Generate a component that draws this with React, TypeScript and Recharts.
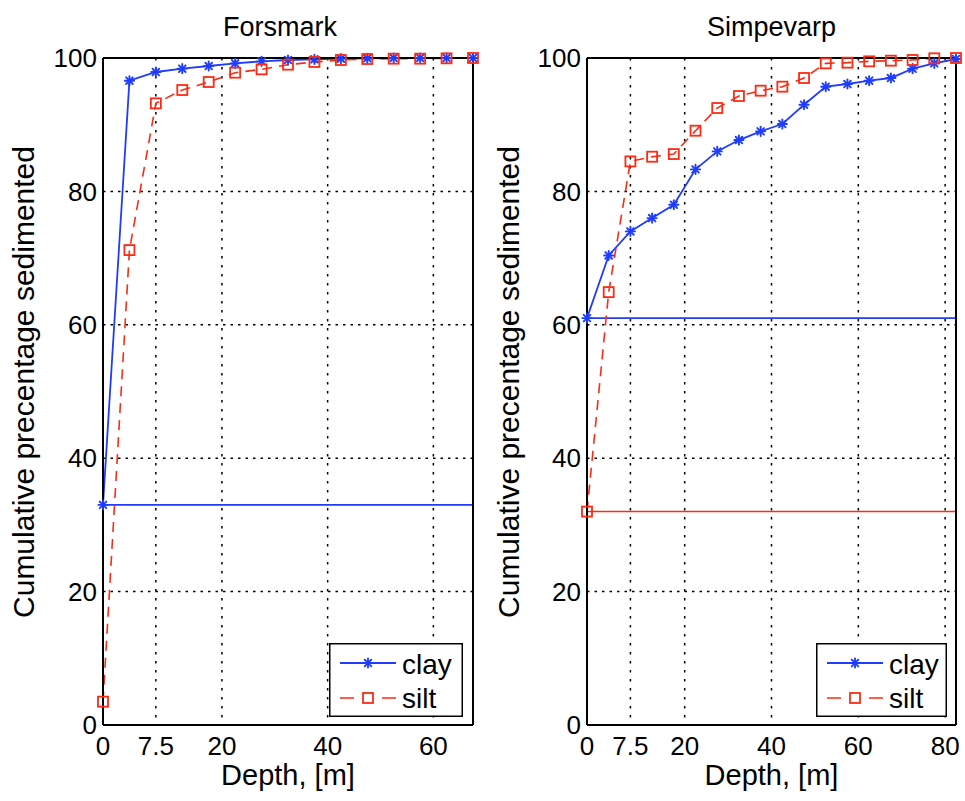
import React from 'react';
import { LineChart, Line, XAxis, YAxis, CartesianGrid, ReferenceLine, Legend } from 'recharts';

const FONT = '"Liberation Sans", Arial, Helvetica, sans-serif';
const BLUE = '#1f3cff';
const RED = '#ff2a12';
const H = 801;
const PLOT_TOP = 58;
const XAXIS_H = 76;

// ---- data ----
const forsmarkDepth = [-2.5, 2.5, 7.5, 12.5, 17.5, 22.5, 27.5, 32.5, 37.5, 42.5, 47.5, 52.5, 57.5, 62.5, 67.5];
const forsmarkClay = [33, 96.6, 97.9, 98.4, 98.8, 99.2, 99.5, 99.7, 99.8, 99.9, 99.95, 100, 100, 100, 100];
const forsmarkSilt = [3.5, 71.2, 93.2, 95.2, 96.4, 97.8, 98.3, 99.0, 99.4, 99.7, 99.85, 99.9, 99.9, 99.95, 100];

const simpevarpDepth = [-2.5, 2.5, 7.5, 12.5, 17.5, 22.5, 27.5, 32.5, 37.5, 42.5, 47.5, 52.5, 57.5, 62.5, 67.5, 72.5, 77.5, 82.5];
const simpevarpClay = [61, 70.4, 74.0, 76.0, 78.0, 83.3, 86.0, 87.7, 89.0, 90.1, 93.0, 95.7, 96.1, 96.6, 97.0, 98.4, 99.2, 99.85];
const simpevarpSilt = [32, 64.9, 84.5, 85.2, 85.6, 89.1, 92.5, 94.3, 95.1, 95.7, 97.0, 99.2, 99.3, 99.5, 99.6, 99.7, 99.95, 100];

const yTicks = [0, 20, 40, 60, 80, 100];
const forsmarkXTicks = [-2.5, 7.5, 20, 40, 60];
const simpevarpXTicks = [-2.5, 7.5, 20, 40, 60, 80];
const seriesNames = ['clay', 'silt'];
const yLabelText = 'Cumulative precentage sedimented';
const xLabelText = 'Depth, [m]';

const fmtX = (v: number) => (v < 0 ? '0' : String(v));

// ---- markers ----
const StarMark = ({ cx, cy }: { cx: number; cy: number }) => {
  const r = 4.6;
  const d = 3.3;
  return (
    <g stroke={BLUE} strokeWidth={1.9} strokeLinecap="round">
      <line x1={cx - r} y1={cy} x2={cx + r} y2={cy} />
      <line x1={cx} y1={cy - r} x2={cx} y2={cy + r} />
      <line x1={cx - d} y1={cy - d} x2={cx + d} y2={cy + d} />
      <line x1={cx - d} y1={cy + d} x2={cx + d} y2={cy - d} />
    </g>
  );
};
const SquareMark = ({ cx, cy }: { cx: number; cy: number }) => (
  <rect x={cx - 5} y={cy - 5} width={10} height={10} fill="none" stroke={RED} strokeWidth={1.8} />
);

const renderStar = (p: any) => {
  if (p.cx == null || p.cy == null) return <g key={p.key} />;
  return (
    <g key={p.key ?? `s${p.index}`}>
      <StarMark cx={p.cx} cy={p.cy} />
    </g>
  );
};
const renderSquare = (p: any) => {
  if (p.cx == null || p.cy == null) return <g key={p.key} />;
  return (
    <g key={p.key ?? `q${p.index}`}>
      <SquareMark cx={p.cx} cy={p.cy} />
    </g>
  );
};

type Cfg = {
  left: number;
  width: number;
  yAxisWidth: number;
  marginRight: number;
  title: string;
  titleDx: number;
  depth: number[];
  clay: number[];
  silt: number[];
  xDomain: [number, number];
  xTicks: number[];
  refs: ('clay' | 'silt')[];
  legendLeft: number;
  legendWidth: number;
};

const panels: Cfg[] = [
  {
    left: 0,
    width: 485,
    yAxisWidth: 103,
    marginRight: 12,
    title: 'Forsmark',
    titleDx: -8,
    depth: forsmarkDepth,
    clay: forsmarkClay,
    silt: forsmarkSilt,
    xDomain: [-2.5, 67.5],
    xTicks: forsmarkXTicks,
    refs: ['clay'],
    legendLeft: 329,
    legendWidth: 134,
  },
  {
    left: 485,
    width: 480,
    yAxisWidth: 102,
    marginRight: 9,
    title: 'Simpevarp',
    titleDx: 0,
    depth: simpevarpDepth,
    clay: simpevarpClay,
    silt: simpevarpSilt,
    xDomain: [-2.5, 82.5],
    xTicks: simpevarpXTicks,
    refs: ['clay', 'silt'],
    legendLeft: 331,
    legendWidth: 131,
  },
];

const LegendBox = ({ width }: { width: number }) => {
  const h = 74;
  return (
    <svg width={width} height={h} style={{ display: 'block' }}>
      <rect x={0.75} y={0.75} width={width - 1.5} height={h - 1.5} fill="#fff" stroke="#000" strokeWidth={1.5} />
      <line x1={11} y1={20} x2={67} y2={20} stroke={BLUE} strokeWidth={1.8} />
      <StarMark cx={39} cy={20} />
      <text x={73} y={31} fontSize={28} fontFamily={FONT} fill="#000">{seriesNames[0]}</text>
      <line x1={11} y1={55} x2={67} y2={55} stroke={RED} strokeWidth={1.6} strokeDasharray="14 28" />
      <SquareMark cx={39} cy={55} />
      <text x={73} y={65} fontSize={28} fontFamily={FONT} fill="#000">{seriesNames[1]}</text>
    </svg>
  );
};

const Panel = ({ cfg }: { cfg: Cfg }) => {
  const data = cfg.depth.map((x, i) => ({ x, clay: cfg.clay[i], silt: cfg.silt[i] }));
  const plotLeft = cfg.yAxisWidth;
  const plotRight = cfg.width - cfg.marginRight;
  const cx = (plotLeft + plotRight) / 2;
  const axisStroke = { stroke: '#000', strokeWidth: 2 };
  const tickStroke = { stroke: '#000', strokeWidth: 1.5 };

  const titleLabel = () => (
    <text x={cx + cfg.titleDx} y={36} textAnchor="middle" fontSize={27} fontFamily={FONT} fill="#000">
      {cfg.title}
    </text>
  );
  const xLabel = () => (
    <text x={cx} y={785} textAnchor="middle" fontSize={29} fontFamily={FONT} fill="#000">
      {xLabelText}
    </text>
  );
  const yLabel = () => {
    const x = 34;
    const y = 382;
    return (
      <text x={x} y={y} transform={`rotate(-90 ${x} ${y})`} textAnchor="middle" fontSize={30} fontFamily={FONT} fill="#000">
        {yLabelText}
      </text>
    );
  };

  return (
    <div style={{ position: 'absolute', left: cfg.left, top: 0, width: cfg.width, height: H }}>
      <LineChart
        width={cfg.width}
        height={H}
        data={data}
        margin={{ top: PLOT_TOP, right: cfg.marginRight, bottom: 0, left: 0 }}
      >
        <CartesianGrid vertical={false} stroke="#000" strokeWidth={1.5} strokeDasharray="2.5 5" />
        <CartesianGrid horizontal={false} stroke="#000" strokeWidth={1.5} strokeDasharray="2.5 6.5" />

        <XAxis
          xAxisId="bm"
          type="number"
          dataKey="x"
          domain={cfg.xDomain}
          ticks={cfg.xTicks}
          interval={0}
          orientation="bottom"
          mirror
          height={1}
          axisLine={false}
          tickLine={tickStroke}
          tickSize={7}
          tick={false}
        />
        <XAxis
          xAxisId="top"
          type="number"
          dataKey="x"
          domain={cfg.xDomain}
          ticks={cfg.xTicks}
          interval={0}
          orientation="top"
          mirror
          height={1}
          axisLine={axisStroke}
          tickLine={tickStroke}
          tickSize={7}
          tick={false}
          label={titleLabel}
        />
        <XAxis
          type="number"
          dataKey="x"
          domain={cfg.xDomain}
          ticks={cfg.xTicks}
          interval={0}
          tickFormatter={fmtX}
          height={XAXIS_H}
          axisLine={axisStroke}
          tickLine={false}
          tickSize={0}
          tickMargin={12}
          tick={{ fill: '#000', fontSize: 26, fontFamily: FONT }}
          label={xLabel}
        />

        <YAxis
          yAxisId="lm"
          type="number"
          domain={[0, 100]}
          ticks={yTicks}
          interval={0}
          orientation="left"
          mirror
          width={1}
          axisLine={false}
          tickLine={tickStroke}
          tickSize={7}
          tick={false}
        />
        <YAxis
          yAxisId="rm"
          type="number"
          domain={[0, 100]}
          ticks={yTicks}
          interval={0}
          orientation="right"
          mirror
          width={1}
          axisLine={axisStroke}
          tickLine={tickStroke}
          tickSize={7}
          tick={false}
        />
        <YAxis
          type="number"
          domain={[0, 100]}
          ticks={yTicks}
          interval={0}
          width={cfg.yAxisWidth}
          axisLine={axisStroke}
          tickLine={false}
          tickSize={0}
          tickMargin={6}
          tick={{ fill: '#000', fontSize: 26, fontFamily: FONT }}
          label={yLabel}
        />

        {cfg.refs.map((k) => (
          <ReferenceLine
            key={k}
            y={k === 'clay' ? cfg.clay[0] : cfg.silt[0]}
            stroke={k === 'clay' ? BLUE : RED}
            strokeWidth={1.6}
          />
        ))}

        <Line
          type="linear"
          dataKey="clay"
          name={seriesNames[0]}
          stroke={BLUE}
          strokeWidth={1.8}
          dot={renderStar}
          activeDot={false}
          isAnimationActive={false}
        />
        <Line
          type="linear"
          dataKey="silt"
          name={seriesNames[1]}
          stroke={RED}
          strokeWidth={1.6}
          strokeDasharray="10 7"
          dot={renderSquare}
          activeDot={false}
          isAnimationActive={false}
        />

        <Legend
          layout="horizontal"
          verticalAlign="middle"
          align="center"
          content={() => <LegendBox width={cfg.legendWidth} />}
          wrapperStyle={{ left: cfg.legendLeft, top: 643, width: cfg.legendWidth, height: 74, margin: 0, padding: 0 }}
        />
      </LineChart>
    </div>
  );
};

export default function App() {
  return (
    <div style={{ position: 'absolute', left: 0, top: 0, width: 965, height: H, background: '#fff', fontFamily: FONT }}>
      {panels.map((p) => (
        <Panel key={p.title} cfg={p} />
      ))}
    </div>
  );
}
